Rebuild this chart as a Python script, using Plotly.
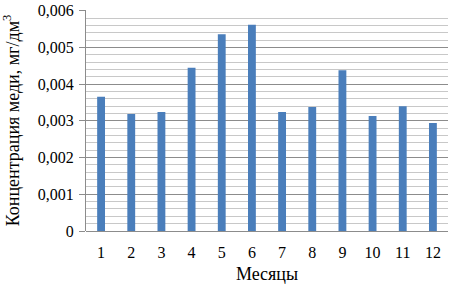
import plotly.graph_objects as go

months = ["1", "2", "3", "4", "5", "6", "7", "8", "9", "10", "11", "12"]
values = [0.00366, 0.00319, 0.00324, 0.00445, 0.00536, 0.00562,
          0.00324, 0.00338, 0.00438, 0.00313, 0.00340, 0.00294]
y_tickvals = [0, 0.001, 0.002, 0.003, 0.004, 0.005, 0.006]
y_ticktext = ["0", "0,001", "0,002", "0,003", "0,004", "0,005", "0,006"]

font = "Liberation Serif, Times New Roman, serif"

fig = go.Figure(go.Bar(x=months, y=values, marker_color="#4a7ebb",
                       marker_line_width=0, width=0.26))

fig.update_layout(
    width=450, height=284,
    margin=dict(l=86, r=2, t=7, b=53),
    paper_bgcolor="white", plot_bgcolor="white",
    showlegend=False,
    font=dict(family=font, size=16, color="black"),
    xaxis=dict(
        type="category", showgrid=False,
        ticks="outside", ticklen=7, tickcolor="white",
        showline=False, tickfont=dict(size=16),
        ticklabeloverflow="allow",
        title=dict(text="Месяцы", font=dict(size=18), standoff=7),
    ),
    yaxis=dict(
        range=[0, 0.00602], tickvals=y_tickvals, ticktext=y_ticktext,
        showgrid=True, gridcolor="#8c8c8c", gridwidth=1,
        minor=dict(dtick=0.0002, showgrid=True, gridcolor="#c8c8c8",
                   gridwidth=1, ticks=""),
        showline=True, linecolor="#8c8c8c", linewidth=1,
        ticks="outside", ticklen=6, tickcolor="#8c8c8c",
        zeroline=True, zerolinecolor="#8c8c8c", zerolinewidth=1,
        tickfont=dict(size=16), ticklabelstandoff=2,
        ticklabeloverflow="allow",
        title=dict(text="Концентрация меди, мг/дм<sup>3</sup>",
                   font=dict(size=18), standoff=14),
    ),
)

fig.write_html("out.html", config={"displayModeBar": False},
               post_script="document.body.style.margin='0';document.body.style.padding='0';")
